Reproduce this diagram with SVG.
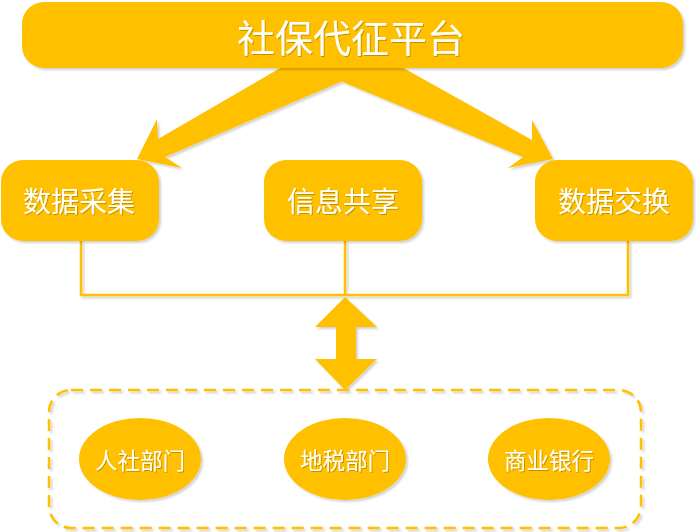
<svg xmlns="http://www.w3.org/2000/svg" width="696" height="532" viewBox="0 0 696 532">
<defs>
<filter id="sh" x="-10%" y="-10%" width="130%" height="130%">
<feDropShadow dx="2" dy="2" stdDeviation="1" flood-color="#000" flood-opacity="0.18"/>
</filter>
<filter id="tsh" x="-10%" y="-10%" width="130%" height="130%">
<feDropShadow dx="1" dy="1" stdDeviation="0.5" flood-color="#000" flood-opacity="0.25"/>
</filter>
</defs>
<style>
.g{fill:#FFC000}
.t{fill:#fff;font-family:"Noto Sans CJK SC",sans-serif;text-anchor:middle;dominant-baseline:central}
.ln{fill:none;stroke:#FFC000;stroke-width:2.5}
</style>
<rect width="696" height="532" fill="#fff"/>
<g id="connectors" filter="url(#sh)">
<polygon class="g" points="389,60 532,140 532,120 553,159 508,168 523,157 290,60"/>
<polygon class="g" points="294,60 158,139 157,119 137,159 182,168 165,157 392,60"/>
<polyline class="ln" points="81,241 81,295 628,295 628,241"/>
<line class="ln" x1="345" y1="241" x2="345" y2="295"/>
<polygon class="g" points="345,297 377,327 356,327 356,359 377,359 345,390 315,359 336,359 336,327 315,327"/>
</g>
<g id="top" filter="url(#sh)">
<rect class="g" x="22" y="2" width="661" height="66" rx="22"/>
<text class="t" x="351" y="35" font-size="38" filter="url(#tsh)">社保代征平台</text>
</g>
<g id="n1" filter="url(#sh)">
<rect class="g" x="1" y="160" width="158" height="81" rx="22"/>
<text class="t" x="79" y="200" font-size="28" filter="url(#tsh)">数据采集</text>
</g>
<g id="n2" filter="url(#sh)">
<rect class="g" x="264" y="160" width="158" height="81" rx="22"/>
<text class="t" x="343" y="200" font-size="28" filter="url(#tsh)">信息共享</text>
</g>
<g id="n3" filter="url(#sh)">
<rect class="g" x="535" y="160" width="158" height="81" rx="22"/>
<text class="t" x="614" y="200" font-size="28" filter="url(#tsh)">数据交换</text>
</g>
<g id="group">
<rect x="49" y="390" width="592" height="138" rx="22" fill="none" stroke="#FFC000" stroke-width="2.5" stroke-dasharray="12 7" filter="url(#sh)"/>
</g>
<g id="e1" filter="url(#sh)">
<ellipse class="g" cx="140" cy="459" rx="61" ry="41"/>
<text class="t" x="140" y="459" font-size="22.5" filter="url(#tsh)">人社部门</text>
</g>
<g id="e2" filter="url(#sh)">
<ellipse class="g" cx="345" cy="459" rx="61" ry="41"/>
<text class="t" x="345" y="459" font-size="22.5" filter="url(#tsh)">地税部门</text>
</g>
<g id="e3" filter="url(#sh)">
<ellipse class="g" cx="549" cy="459" rx="61" ry="41"/>
<text class="t" x="549" y="459" font-size="22.5" filter="url(#tsh)">商业银行</text>
</g>
</svg>
